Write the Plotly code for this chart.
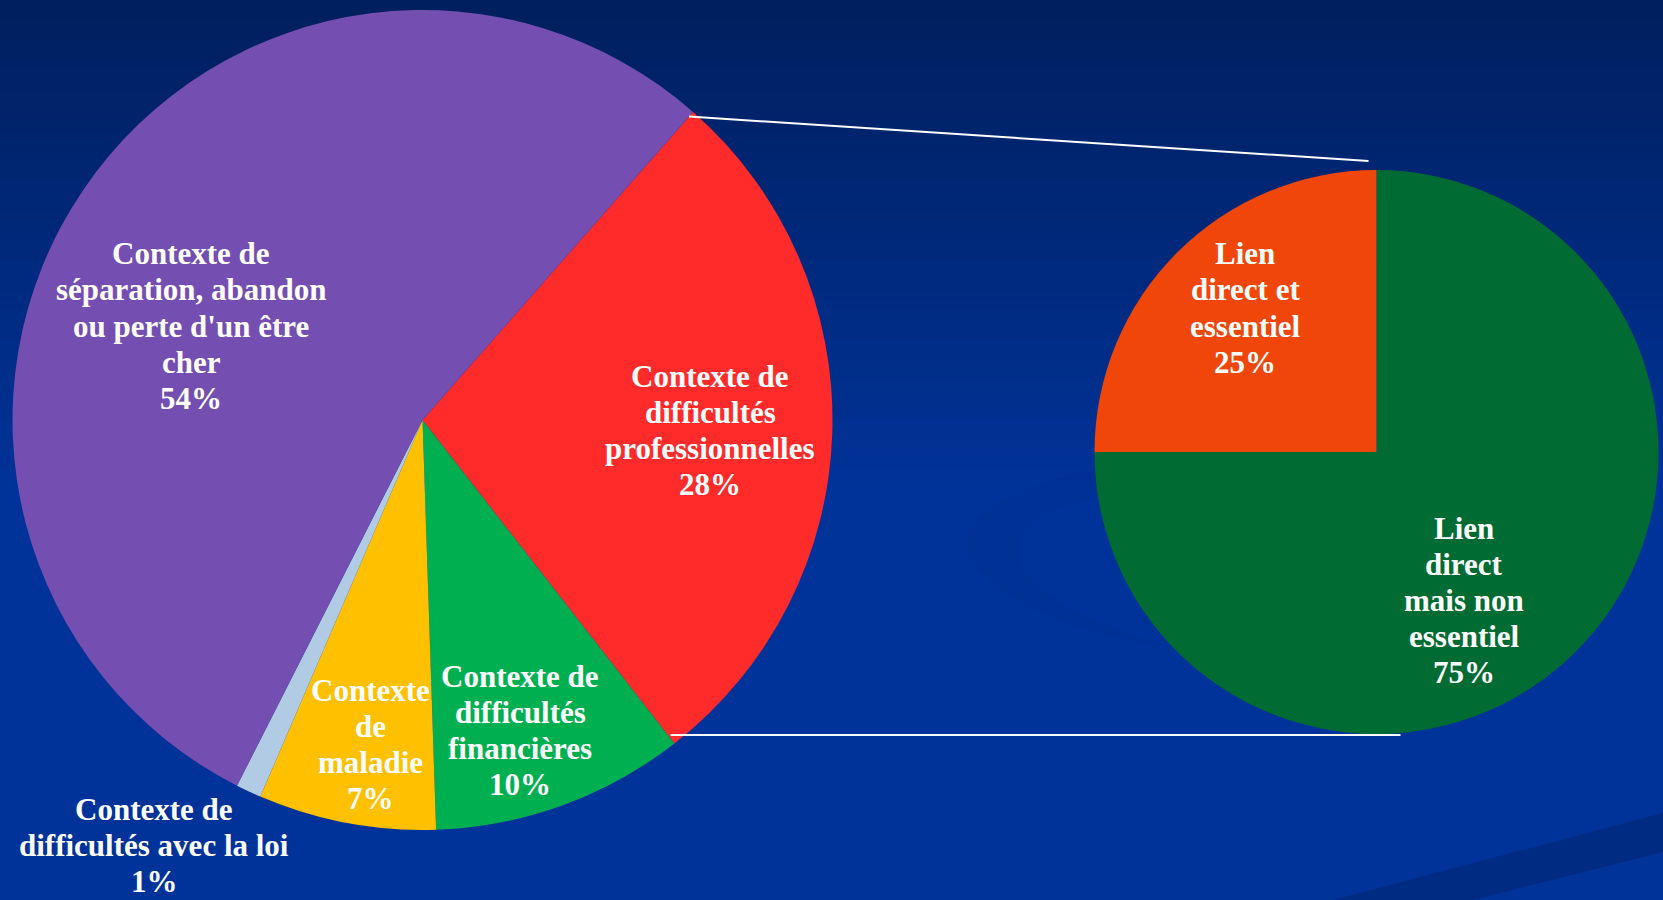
import math
import plotly.graph_objects as go

W, H = 1663, 900

# ---- data ----
left_categories = [
    "Contexte de difficultés professionnelles",
    "Contexte de difficultés financières",
    "Contexte de maladie",
    "Contexte de difficultés avec la loi",
    "Contexte de séparation, abandon ou perte d'un être cher",
]
left_values = [28, 10, 7, 1, 54]
left_label_lines = [
    ["Contexte de", "difficultés", "professionnelles"],
    ["Contexte de", "difficultés", "financières"],
    ["Contexte", "de", "maladie"],
    ["Contexte de", "difficultés avec la loi"],
    ["Contexte de", "séparation, abandon", "ou perte d'un être", "cher"],
]
left_colors = ["#FF2A2A", "#00B050", "#FFC000", "#B0CBE3", "#744EB1"]

right_categories = ["Lien direct mais non essentiel", "Lien direct et essentiel"]
right_values = [75, 25]
right_label_lines = [
    ["Lien", "direct", "mais non", "essentiel"],
    ["Lien", "direct et", "essentiel"],
]
right_colors = ["#006B33", "#F0460A"]

# ---- layout geometry (pixels) ----
L_CX, L_CY, L_R = 422.5, 420.0, 410.0
R_CX, R_CY, R_R = 1376.5, 452.0, 282.0
L_ROT = 41.3
LINE_H = 36

left_label_pos = [(710, 430), (520, 730), (370, 744), (154, 845), (191, 326)]
right_label_pos = [(1464, 600), (1245, 308)]


def px(x):
    return x / W


def py(y):
    return 1 - y / H


fig = go.Figure()
fig.add_trace(go.Pie(
    labels=left_categories, values=left_values, sort=False,
    direction="clockwise", rotation=L_ROT,
    marker=dict(colors=left_colors, line=dict(width=0)),
    textinfo="none", hoverinfo="label+percent", showlegend=False,
    domain=dict(x=[px(L_CX - L_R), px(L_CX + L_R)],
                y=[py(L_CY + L_R), py(L_CY - L_R)]),
))
fig.add_trace(go.Pie(
    labels=right_categories, values=right_values, sort=False,
    direction="clockwise", rotation=0,
    marker=dict(colors=right_colors, line=dict(width=0)),
    textinfo="none", hoverinfo="label+percent", showlegend=False,
    domain=dict(x=[px(R_CX - R_R), px(R_CX + R_R)],
                y=[py(R_CY + R_R), py(R_CY - R_R)]),
))

shapes = []
# background gradient
top = (0, 31, 94)
bot = (0, 51, 153)
N = 50
for i in range(N):
    t = i / (N - 1)
    c = tuple(round(top[k] + (bot[k] - top[k]) * t) for k in range(3))
    y0 = i * 10
    shapes.append(dict(type="rect", xref="paper", yref="paper",
                       x0=0, x1=1, y0=py(y0 + 11), y1=py(y0),
                       fillcolor=f"rgb{c}", line=dict(width=0), layer="below"))
# subtle decorative swoosh & stripe
swoosh = ("M {a},{b} Q {c},{d} {e},{f} Q {g},{h} {i},{j} "
          "Q {k},{l} {m},{n} Q {o},{p} {q},{r} Z").format(
    a=px(1095), b=py(468), c=px(930), d=py(510), e=px(978), f=py(570),
    g=px(1040), h=py(630), i=px(1170), j=py(646),
    k=px(1040), l=py(612), m=px(1020), n=py(560),
    o=px(1008), p=py(515), q=px(1097), r=py(497))
shapes.append(dict(type="path", xref="paper", yref="paper", path=swoosh,
                   fillcolor="rgba(0,30,100,0.08)", line=dict(width=0), layer="below"))
stripe = "M {},{} L {},{} L {},{} L {},{} Z".format(
    px(1333), py(900), px(1663), py(813), px(1663), py(852), px(1473), py(900))
shapes.append(dict(type="path", xref="paper", yref="paper", path=stripe,
                   fillcolor="rgba(0,35,110,0.5)", line=dict(width=0), layer="below"))

# connector lines, from slice boundaries of the left pie
a0 = math.radians(L_ROT)
a1 = math.radians(L_ROT + 360 * left_values[0] / sum(left_values))
rr = L_R * 0.985
sx0, sy0 = L_CX + rr * math.sin(a0), L_CY - rr * math.cos(a0)
sx1, sy1 = L_CX + rr * math.sin(a1), L_CY - rr * math.cos(a1)
shapes.append(dict(type="line", xref="paper", yref="paper",
                   x0=px(sx0), y0=py(sy0), x1=px(R_CX - 8), y1=py(R_CY - R_R - 9),
                   line=dict(color="white", width=2), layer="above"))
shapes.append(dict(type="line", xref="paper", yref="paper",
                   x0=px(sx1), y0=py(R_CY + R_R + 1), x1=px(R_CX + 24), y1=py(R_CY + R_R + 1),
                   line=dict(color="white", width=2), layer="above"))

annotations = []
FONT = dict(family="Liberation Serif, Times New Roman, serif", size=31, color="white")


def add_label(lines, x, y):
    n = len(lines)
    for j, ln in enumerate(lines):
        yy = y + (j - (n - 1) / 2) * LINE_H
        annotations.append(dict(text="<b>" + ln + "</b>", x=px(x), y=py(yy),
                                xref="paper", yref="paper", showarrow=False,
                                font=FONT, xanchor="center", yanchor="middle"))


for lines, v, pos in zip(left_label_lines, left_values, left_label_pos):
    add_label(lines + [f"{v}%"], *pos)
for lines, v, pos in zip(right_label_lines, right_values, right_label_pos):
    add_label(lines + [f"{v}%"], *pos)

fig.update_layout(
    width=W, height=H, margin=dict(l=0, r=0, t=0, b=0),
    paper_bgcolor="rgb(0,51,153)", plot_bgcolor="rgba(0,0,0,0)",
    shapes=shapes, annotations=annotations,
)
fig.write_html("out.html", config={"displayModeBar": False},
               post_script="document.body.style.margin='0';document.body.style.overflow='hidden';")
